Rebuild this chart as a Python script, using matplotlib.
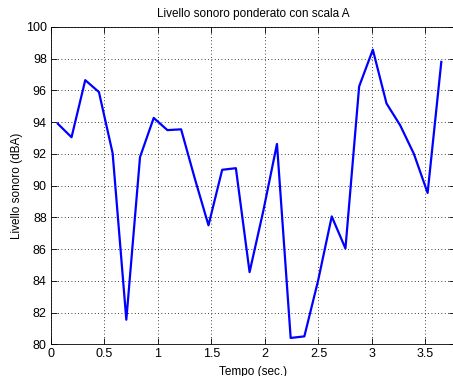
import matplotlib
matplotlib.use("Agg")
import matplotlib.pyplot as plt

# Frame times (s) and A-weighted levels (dBA)
tempo = [0.064, 0.192, 0.320, 0.448, 0.576, 0.704, 0.832, 0.960, 1.088, 1.216,
         1.344, 1.472, 1.600, 1.728, 1.856, 1.984, 2.112, 2.240, 2.368, 2.496,
         2.624, 2.752, 2.880, 3.008, 3.136, 3.264, 3.392, 3.520, 3.648]
livello = [93.9, 93.05, 96.65, 95.9, 92.05, 81.55, 91.8, 94.27, 93.5, 93.55,
           90.45, 87.5, 91.0, 91.1, 84.55, 88.4, 92.63, 80.4, 80.5, 84.0,
           88.06, 86.04, 96.25, 98.57, 95.18, 93.8, 92.0, 89.54, 97.8]

plt.rcParams["font.family"] = ["Liberation Sans", "DejaVu Sans"]
plt.rcParams["font.size"] = 9

fig = plt.figure(figsize=(4.53, 3.76), dpi=100)
ax = fig.add_axes([51 / 453, 31.7 / 376, 404 / 453, 317.3 / 376])

ax.plot(tempo, livello, color="#0000ff", linewidth=1.6)

ax.set_xlim(0, 3.776)
ax.set_ylim(80, 100)
ax.set_xticks([0, 0.5, 1, 1.5, 2, 2.5, 3, 3.5])
ax.set_xticklabels(["0", "0.5", "1", "1.5", "2", "2.5", "3", "3.5"])
ax.set_yticks(range(80, 101, 2))

ax.grid(True, color="black", linestyle=(0, (1, 3)), linewidth=0.6)
ax.tick_params(direction="in", length=4, width=0.6, top=True, right=True,
               labelsize=9, colors="black", pad=3)
for sp in ax.spines.values():
    sp.set_linewidth(0.6)

ax.set_title("Livello sonoro ponderato con scala A", fontsize=8.5, pad=7)
ax.set_xlabel("Tempo (sec.)", fontsize=8.5, labelpad=4)
ax.set_ylabel("Livello sonoro (dBA)", fontsize=8.5, labelpad=2)

fig.savefig("out.png", dpi=100)
